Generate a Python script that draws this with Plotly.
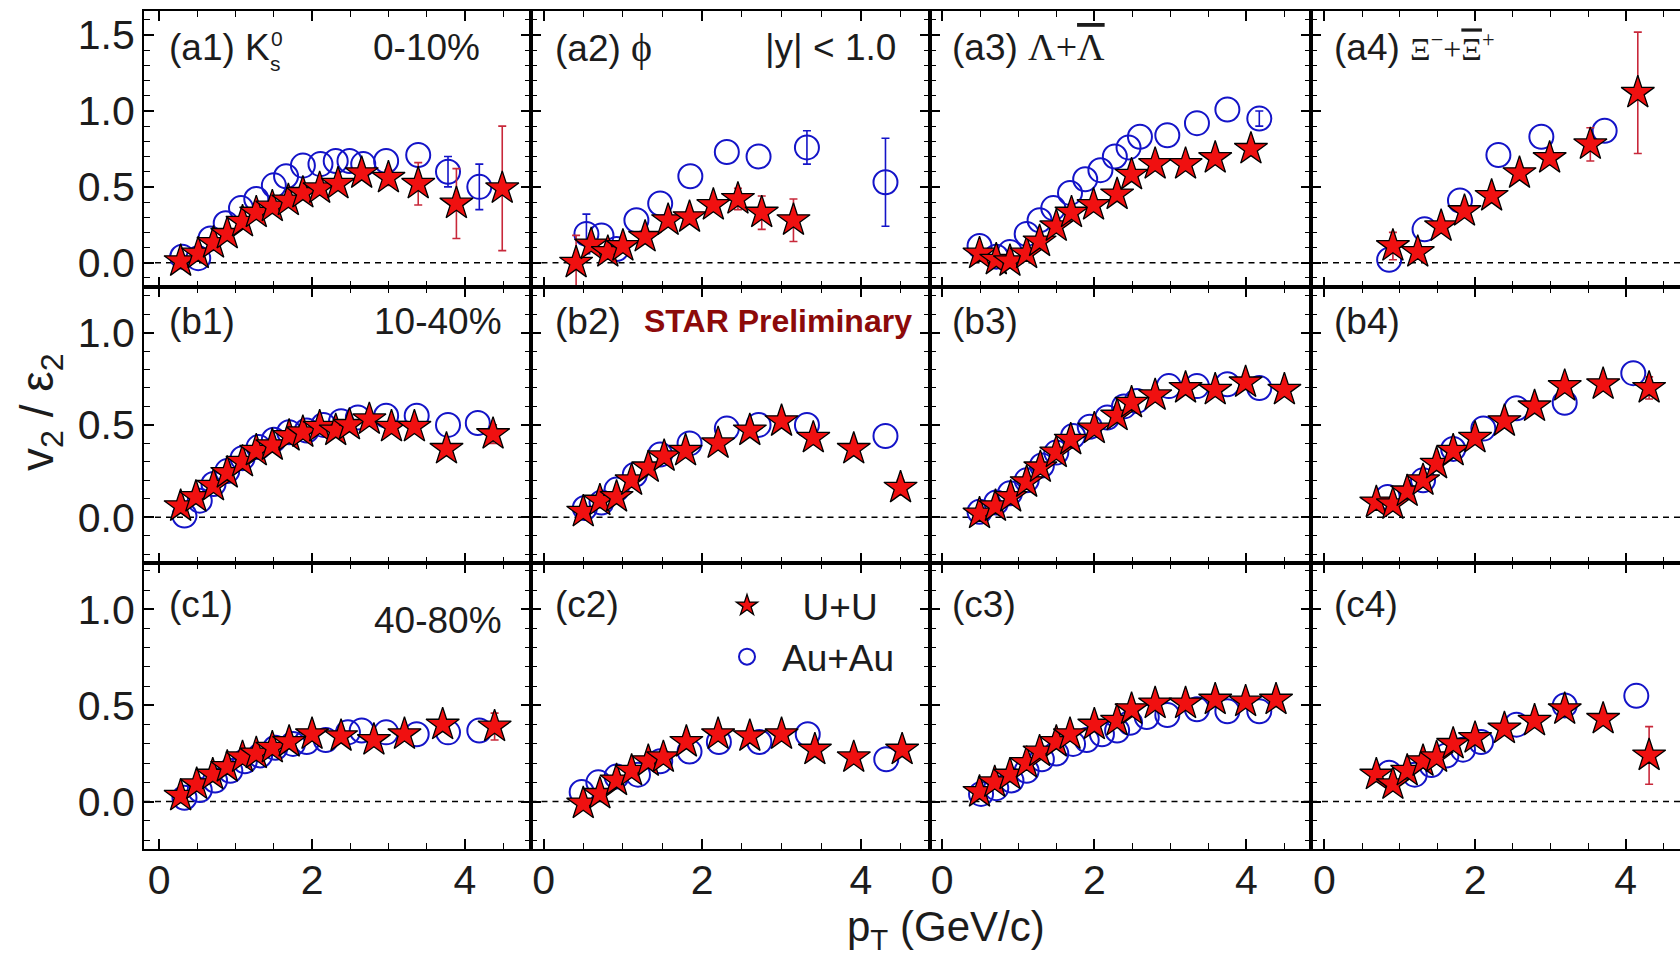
import plotly.graph_objects as go
from plotly.subplots import make_subplots

# ---------------- data (pT in GeV/c, v2/eps2) ----------------
a1_uu_x = [0.28, 0.51, 0.71, 0.89, 1.09, 1.27, 1.48, 1.69, 1.88, 2.10, 2.34, 2.65, 3.00, 3.39, 3.89, 4.49]
a1_uu_y = [0.01, 0.06, 0.13, 0.19, 0.27, 0.33, 0.37, 0.41, 0.46, 0.49, 0.52, 0.59, 0.56, 0.52, 0.39, 0.49]
a1_uu_e = [0, 0, 0, 0, 0, 0, 0, 0, 0, 0, 0, 0, 0.05, 0.14, 0.23, 0.41]
a1_au_x = [0.30, 0.51, 0.67, 0.87, 1.07, 1.27, 1.50, 1.66, 1.88, 2.11, 2.31, 2.49, 2.67, 2.97, 3.39, 3.78, 4.19]
a1_au_y = [0.04, 0.03, 0.16, 0.26, 0.36, 0.42, 0.51, 0.57, 0.64, 0.65, 0.67, 0.67, 0.65, 0.67, 0.71, 0.60, 0.50]
a1_au_e = [0, 0, 0, 0, 0, 0, 0, 0, 0, 0, 0, 0, 0, 0, 0, 0.10, 0.15]

a2_uu_x = [0.41, 0.60, 0.81, 1.00, 1.28, 1.57, 1.84, 2.14, 2.45, 2.75, 3.15]
a2_uu_y = [0.00, 0.12, 0.07, 0.11, 0.17, 0.28, 0.30, 0.38, 0.42, 0.33, 0.28]
a2_uu_e = [0.18, 0, 0, 0, 0, 0, 0, 0, 0.07, 0.11, 0.14]
a2_au_x = [0.54, 0.73, 0.92, 1.17, 1.47, 1.85, 2.31, 2.71, 3.32, 4.31]
a2_au_y = [0.19, 0.18, 0.09, 0.28, 0.39, 0.57, 0.73, 0.70, 0.76, 0.53]
a2_au_e = [0.13, 0, 0, 0, 0, 0, 0, 0, 0.11, 0.29]

a3_uu_x = [0.49, 0.71, 0.89, 1.11, 1.28, 1.50, 1.70, 1.99, 2.30, 2.49, 2.80, 3.20, 3.59, 4.06]
a3_uu_y = [0.06, 0.02, 0.01, 0.06, 0.14, 0.24, 0.33, 0.38, 0.45, 0.58, 0.65, 0.65, 0.69, 0.75]
a3_uu_e = [0, 0, 0, 0, 0, 0, 0, 0, 0, 0, 0, 0, 0, 0]
a3_au_x = [0.49, 0.71, 0.89, 1.11, 1.28, 1.46, 1.68, 1.88, 2.08, 2.27, 2.45, 2.60, 2.96, 3.35, 3.75, 4.17]
a3_au_y = [0.11, 0.04, 0.07, 0.19, 0.28, 0.36, 0.46, 0.55, 0.61, 0.70, 0.76, 0.83, 0.84, 0.92, 1.01, 0.95]
a3_au_e = [0, 0, 0, 0, 0, 0, 0, 0, 0, 0, 0, 0, 0, 0, 0, 0.05]

a4_uu_x = [0.91, 1.24, 1.55, 1.86, 2.22, 2.59, 2.99, 3.53, 4.16]
a4_uu_y = [0.11, 0.07, 0.24, 0.34, 0.44, 0.59, 0.69, 0.78, 1.12]
a4_uu_e = [0.09, 0, 0, 0, 0, 0, 0, 0.11, 0.40]
a4_au_x = [0.86, 1.33, 1.80, 2.31, 2.88, 3.72]
a4_au_y = [0.02, 0.22, 0.41, 0.71, 0.83, 0.87]
a4_au_e = [0, 0, 0, 0, 0, 0]

b1_uu_x = [0.28, 0.48, 0.71, 0.89, 1.09, 1.27, 1.48, 1.70, 1.88, 2.10, 2.31, 2.49, 2.75, 3.04, 3.34, 3.76, 4.37]
b1_uu_y = [0.06, 0.11, 0.17, 0.24, 0.30, 0.36, 0.39, 0.44, 0.46, 0.49, 0.47, 0.50, 0.53, 0.49, 0.49, 0.37, 0.45]
b1_uu_e = [0, 0, 0, 0, 0, 0, 0, 0, 0, 0, 0, 0, 0, 0, 0, 0, 0.05]
b1_au_x = [0.33, 0.53, 0.71, 0.89, 1.09, 1.30, 1.50, 1.70, 1.93, 2.15, 2.38, 2.60, 2.97, 3.37, 3.78, 4.17]
b1_au_y = [0.01, 0.09, 0.18, 0.25, 0.32, 0.38, 0.42, 0.46, 0.47, 0.50, 0.52, 0.54, 0.55, 0.55, 0.50, 0.51]
b1_au_e = [0] * 16

b2_uu_x = [0.50, 0.71, 0.92, 1.11, 1.32, 1.52, 1.79, 2.20, 2.60, 3.00, 3.40, 3.91, 4.50]
b2_uu_y = [0.03, 0.09, 0.11, 0.20, 0.27, 0.33, 0.36, 0.40, 0.47, 0.52, 0.43, 0.37, 0.16]
b2_uu_e = [0, 0, 0, 0, 0, 0, 0, 0, 0, 0, 0, 0, 0.04]
b2_au_x = [0.52, 0.73, 0.92, 1.15, 1.47, 1.84, 2.31, 2.71, 3.32, 4.31]
b2_au_y = [0.05, 0.08, 0.15, 0.23, 0.34, 0.40, 0.48, 0.50, 0.50, 0.44]
b2_au_e = [0] * 10

b3_uu_x = [0.49, 0.70, 0.90, 1.11, 1.29, 1.50, 1.69, 2.00, 2.30, 2.49, 2.80, 3.20, 3.59, 3.99, 4.50]
b3_uu_y = [0.02, 0.06, 0.11, 0.19, 0.27, 0.35, 0.42, 0.48, 0.55, 0.62, 0.66, 0.70, 0.69, 0.73, 0.69]
b3_uu_e = [0] * 15
b3_au_x = [0.49, 0.71, 0.89, 1.11, 1.31, 1.50, 1.72, 1.94, 2.17, 2.39, 2.56, 2.98, 3.35, 3.75, 4.17]
b3_au_y = [0.03, 0.08, 0.13, 0.20, 0.28, 0.35, 0.44, 0.49, 0.54, 0.60, 0.63, 0.71, 0.71, 0.72, 0.70]
b3_au_e = [0] * 15

b4_uu_x = [0.69, 0.91, 1.10, 1.31, 1.49, 1.71, 2.00, 2.39, 2.79, 3.19, 3.70, 4.31]
b4_uu_y = [0.08, 0.07, 0.14, 0.20, 0.29, 0.36, 0.43, 0.52, 0.60, 0.71, 0.72, 0.70]
b4_uu_e = [0, 0, 0, 0, 0, 0, 0, 0, 0, 0, 0, 0.06]
b4_au_x = [0.84, 1.31, 1.71, 2.11, 2.55, 3.19, 4.10]
b4_au_y = [0.11, 0.20, 0.37, 0.48, 0.59, 0.62, 0.78]
b4_au_e = [0] * 7

c1_uu_x = [0.28, 0.49, 0.70, 0.89, 1.09, 1.27, 1.48, 1.70, 2.00, 2.38, 2.81, 3.21, 3.71, 4.39]
c1_uu_y = [0.03, 0.09, 0.14, 0.18, 0.23, 0.25, 0.28, 0.31, 0.35, 0.34, 0.32, 0.35, 0.40, 0.39]
c1_uu_e = [0, 0, 0, 0, 0, 0, 0, 0, 0, 0, 0, 0, 0, 0.07]
c1_au_x = [0.33, 0.53, 0.73, 0.93, 1.12, 1.32, 1.52, 1.75, 1.93, 2.18, 2.47, 2.65, 2.97, 3.37, 3.78, 4.19]
c1_au_y = [0.02, 0.06, 0.11, 0.16, 0.21, 0.24, 0.28, 0.30, 0.31, 0.32, 0.36, 0.37, 0.36, 0.35, 0.36, 0.37]
c1_au_e = [0] * 16

c2_uu_x = [0.50, 0.71, 0.92, 1.11, 1.32, 1.51, 1.80, 2.20, 2.60, 3.00, 3.42, 3.91, 4.52]
c2_uu_y = [-0.01, 0.04, 0.11, 0.16, 0.21, 0.23, 0.31, 0.35, 0.34, 0.35, 0.27, 0.23, 0.27]
c2_uu_e = [0] * 13
c2_au_x = [0.48, 0.69, 0.92, 1.19, 1.47, 1.84, 2.21, 2.72, 3.33, 4.32]
c2_au_y = [0.05, 0.10, 0.13, 0.14, 0.21, 0.26, 0.31, 0.31, 0.35, 0.22]
c2_au_e = [0] * 10

c3_uu_x = [0.49, 0.69, 0.89, 1.11, 1.28, 1.50, 1.68, 2.00, 2.30, 2.49, 2.80, 3.20, 3.59, 3.99, 4.39]
c3_uu_y = [0.05, 0.10, 0.14, 0.20, 0.26, 0.31, 0.35, 0.40, 0.42, 0.48, 0.51, 0.51, 0.53, 0.52, 0.53]
c3_uu_e = [0] * 15
c3_au_x = [0.51, 0.71, 0.91, 1.11, 1.31, 1.50, 1.72, 1.90, 2.10, 2.30, 2.47, 2.69, 2.96, 3.35, 3.75, 4.17]
c3_au_y = [0.04, 0.07, 0.11, 0.16, 0.22, 0.25, 0.30, 0.32, 0.35, 0.37, 0.41, 0.44, 0.45, 0.48, 0.47, 0.47]
c3_au_e = [0] * 16

c4_uu_x = [0.69, 0.91, 1.10, 1.31, 1.49, 1.71, 2.00, 2.39, 2.79, 3.19, 3.70, 4.31]
c4_uu_y = [0.14, 0.09, 0.16, 0.21, 0.23, 0.30, 0.33, 0.38, 0.42, 0.48, 0.43, 0.24]
c4_uu_e = [0, 0, 0, 0, 0, 0, 0, 0, 0, 0, 0, 0.15]
c4_au_x = [0.86, 1.20, 1.42, 1.62, 1.84, 2.08, 2.55, 3.19, 4.14]
c4_au_y = [0.15, 0.14, 0.19, 0.24, 0.27, 0.31, 0.40, 0.50, 0.55]
c4_au_e = [0] * 9

x_tick_vals = [0, 2, 4]
x_tick_text = ["0", "2", "4"]
y_tick_vals_top = [0.0, 0.5, 1.0, 1.5]
y_tick_vals = [0.0, 0.5, 1.0]

panels = [
    [(a1_uu_x, a1_uu_y, a1_uu_e, a1_au_x, a1_au_y, a1_au_e),
     (a2_uu_x, a2_uu_y, a2_uu_e, a2_au_x, a2_au_y, a2_au_e),
     (a3_uu_x, a3_uu_y, a3_uu_e, a3_au_x, a3_au_y, a3_au_e),
     (a4_uu_x, a4_uu_y, a4_uu_e, a4_au_x, a4_au_y, a4_au_e)],
    [(b1_uu_x, b1_uu_y, b1_uu_e, b1_au_x, b1_au_y, b1_au_e),
     (b2_uu_x, b2_uu_y, b2_uu_e, b2_au_x, b2_au_y, b2_au_e),
     (b3_uu_x, b3_uu_y, b3_uu_e, b3_au_x, b3_au_y, b3_au_e),
     (b4_uu_x, b4_uu_y, b4_uu_e, b4_au_x, b4_au_y, b4_au_e)],
    [(c1_uu_x, c1_uu_y, c1_uu_e, c1_au_x, c1_au_y, c1_au_e),
     (c2_uu_x, c2_uu_y, c2_uu_e, c2_au_x, c2_au_y, c2_au_e),
     (c3_uu_x, c3_uu_y, c3_uu_e, c3_au_x, c3_au_y, c3_au_e),
     (c4_uu_x, c4_uu_y, c4_uu_e, c4_au_x, c4_au_y, c4_au_e)],
]

# ---------------- layout geometry (pixels of a 1680x958 page) ----------------
W, H = 1680, 958
COL_PX = [(144, 530.5), (530.5, 929.5), (929.5, 1311), (1311, 1680)]
ROW_PX = [(11, 286.7), (286.7, 563.3), (563.3, 849.3)]
X_RANGE = [[-0.20, 4.86], [-0.165, 4.865], [-0.168, 4.85], [-0.177, 4.72]]
Y_RANGE = [[-0.158, 1.659], [-0.249, 1.248], [-0.248, 1.239]]

FONT = "Liberation Sans, Arial, Helvetica, sans-serif"
SERIF = "Liberation Serif, Times New Roman, serif"
TXT = "#1c1c1c"
RED = "#f01010"
RED_ERR = "#c8283a"
BLUE = "#1414c8"


def with_err(xs, ys, es):
    # only points whose error bar sticks out of the marker get one
    sel = [i for i, e in enumerate(es) if e > 0]
    return [xs[i] for i in sel], [ys[i] for i in sel], [es[i] for i in sel]


fig = make_subplots(rows=3, cols=4, horizontal_spacing=0, vertical_spacing=0)

for r in range(3):
    for c in range(4):
        uu_x, uu_y, uu_e, au_x, au_y, au_e = panels[r][c]
        first = (r == 0 and c == 0)
        ex, ey, ee = with_err(au_x, au_y, au_e)
        if ex:
            fig.add_trace(go.Scatter(
                x=ex, y=ey, mode="markers", showlegend=False, hoverinfo="skip",
                marker=dict(size=1, opacity=0),
                error_y=dict(type="data", array=ee, visible=True, color=BLUE, thickness=1.6, width=4),
            ), row=r + 1, col=c + 1)
        fig.add_trace(go.Scatter(
            x=au_x, y=au_y, mode="markers", name="Au+Au", legendrank=2,
            showlegend=first,
            marker=dict(symbol="circle-open", size=24, color=BLUE, line=dict(width=2, color=BLUE)),
        ), row=r + 1, col=c + 1)
        ex, ey, ee = with_err(uu_x, uu_y, uu_e)
        if ex:
            fig.add_trace(go.Scatter(
                x=ex, y=ey, mode="markers", showlegend=False, hoverinfo="skip",
                marker=dict(size=1, opacity=0),
                error_y=dict(type="data", array=ee, visible=True, color=RED_ERR, thickness=1.6, width=4),
            ), row=r + 1, col=c + 1)
        fig.add_trace(go.Scatter(
            x=uu_x, y=uu_y, mode="markers", name="\u00a0\u00a0U+U", legendrank=1,
            showlegend=first,
            marker=dict(symbol="star", size=25, color=RED, line=dict(width=1.3, color="black")),
        ), row=r + 1, col=c + 1)

for r in range(3):
    for c in range(4):
        idx = r * 4 + c + 1
        xd = [COL_PX[c][0] / W, COL_PX[c][1] / W]
        yd = [1 - ROW_PX[r][1] / H, 1 - ROW_PX[r][0] / H]
        fig.update_xaxes(
            row=r + 1, col=c + 1, domain=xd, range=X_RANGE[c],
            tickvals=x_tick_vals, ticktext=x_tick_text,
            showticklabels=(r == 2),
            ticks="inside", ticklen=10, tickwidth=1.6, tickcolor="black",
            minor=dict(ticks="inside", ticklen=6, tickwidth=1.4, tickcolor="black", dtick=0.5, tick0=0),
            showline=True, linewidth=2, linecolor="black", mirror="allticks",
            showgrid=False, zeroline=False,
            tickfont=dict(family=FONT, size=41, color=TXT), ticklabelstandoff=-7,
        )
        fig.update_yaxes(
            row=r + 1, col=c + 1, domain=yd, range=Y_RANGE[r],
            tickvals=(y_tick_vals_top if r == 0 else y_tick_vals), tickformat=".1f",
            showticklabels=(c == 0),
            ticks="inside", ticklen=10, tickwidth=1.6, tickcolor="black",
            minor=dict(ticks="inside", ticklen=6, tickwidth=1.4, tickcolor="black", dtick=0.1, tick0=0),
            showline=True, linewidth=2, linecolor="black",
            mirror=("allticks" if c < 3 else False),
            showgrid=False, zeroline=False,
            tickfont=dict(family=FONT, size=41, color=TXT), ticklabelstandoff=-1,
        )
        xs = "x" if idx == 1 else f"x{idx}"
        ys = "y" if idx == 1 else f"y{idx}"
        fig.add_shape(type="line", xref=f"{xs} domain", yref=ys, x0=0, x1=1, y0=0, y1=0,
                      line=dict(color="black", width=1.5, dash="6px,5px"), layer="below")


def P(x, y):
    return x / W, 1 - y / H


annots = []


def txt(x, y, text, size=37, xanchor="left", color=TXT, family=FONT, angle=0):
    px, py = P(x, y)
    annots.append(dict(x=px, y=py, xref="paper", yref="paper", text=text, showarrow=False,
                       xanchor=xanchor, yanchor="middle", textangle=angle,
                       font=dict(size=size, color=color, family=family)))


ROW_Y = [47, 321, 604]
COL_X = [167, 553, 950, 1332]


def serif(s, size):
    return f"<span style='font-family:{SERIF};font-size:{size}px'>{s}</span>"


OVL = "text-decoration:overline"

txt(COL_X[0], ROW_Y[0], "(a1) K")
txt(269, 38, "0", size=21)
txt(268, 63, "s", size=21)
txt(COL_X[1], ROW_Y[0], "(a2) " + serif("\u03d5", 40))
txt(COL_X[2], ROW_Y[0], "(a3) " + serif(f"\u039b+<span style='{OVL}'>\u039b</span>", 38))
txt(COL_X[3], ROW_Y[0], "(a4) " + serif(f"\u039e<sup>\u2212</sup>+<span style='{OVL}'>\u039e</span><sup>+</sup>", 32))
for c in range(4):
    txt(COL_X[c], ROW_Y[1], f"(b{c + 1})")
    txt(COL_X[c], ROW_Y[2], f"(c{c + 1})")

txt(482, 47, "0-10%", xanchor="right")
txt(898, 47, "|y| &lt; 1.0", xanchor="right")
txt(504, 321, "10-40%", xanchor="right")
txt(504, 620, "40-80%", xanchor="right")
txt(642, 321, "<b>STAR Preliminary</b>", size=32, color="#8c0a0a")

txt(946, 929, "p<sub>T</sub> (GeV/c)", size=42, xanchor="center")
txt(40, 412, "v<sub>2</sub> / \u03b5<sub>2</sub>", size=46, xanchor="center", angle=-90)

lx, ly = P(712, 575)
fig.update_layout(
    width=W, height=H,
    margin=dict(l=0, r=0, t=0, b=0),
    paper_bgcolor="white", plot_bgcolor="white",
    annotations=annots,
    showlegend=True,
    legend=dict(x=lx, y=ly, xanchor="left", yanchor="top", bgcolor="rgba(0,0,0,0)",
                font=dict(family=FONT, size=37, color=TXT), itemwidth=60,
                traceorder="normal", tracegroupgap=0),
)

fig.write_html("out.html")
